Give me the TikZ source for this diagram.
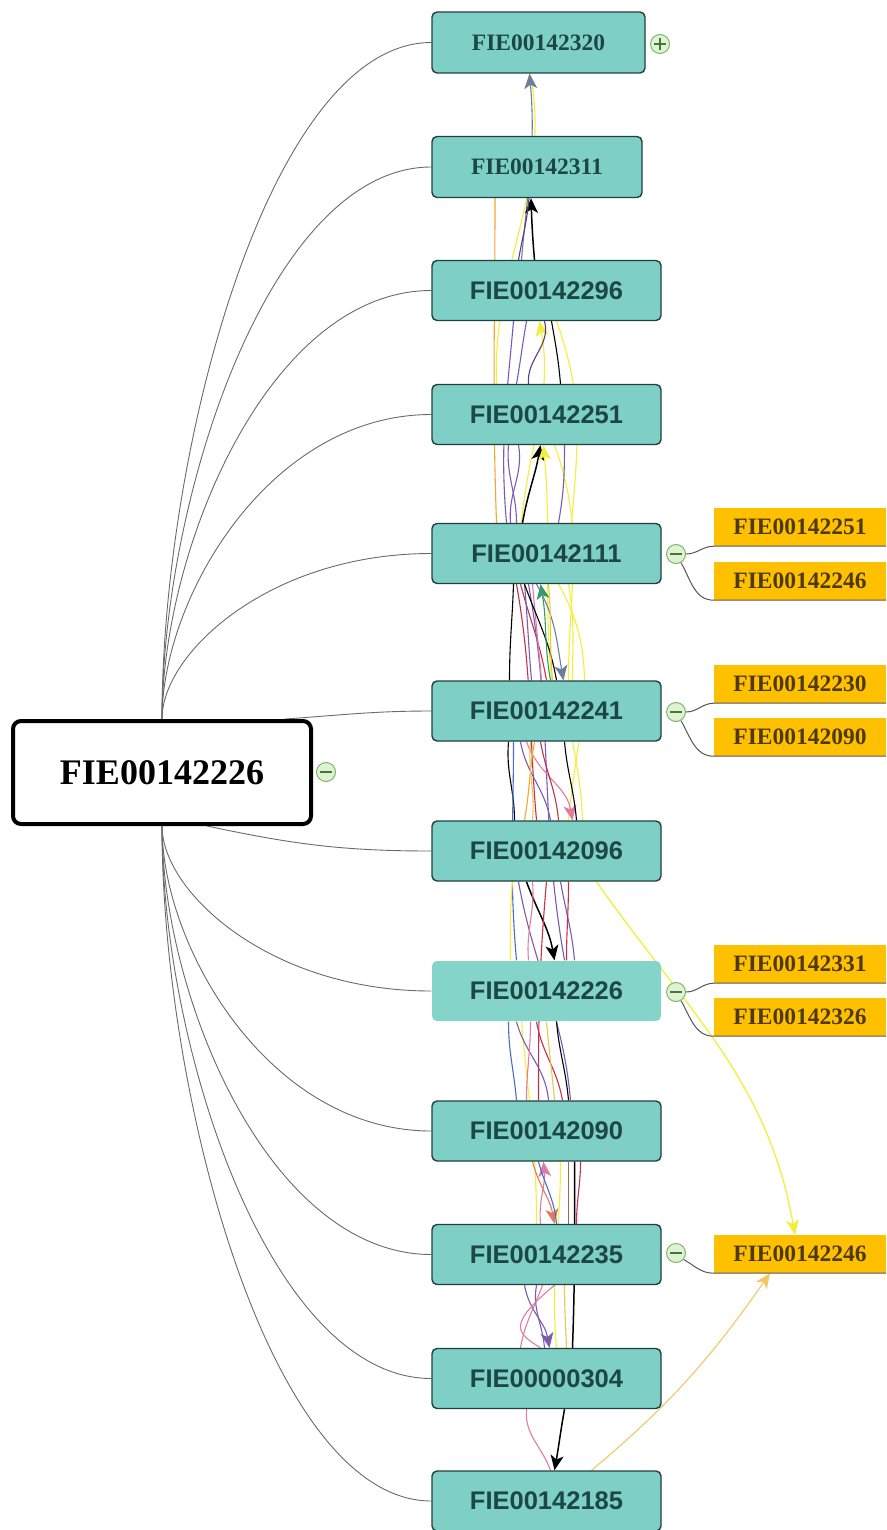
\documentclass[tikz,border=0pt]{standalone}
\usepackage{fontspec}
\setmainfont{Liberation Serif}
\newfontfamily\boxsans{Liberation Sans}
\usetikzlibrary{arrows.meta,calc}
\pgfdeclarelayer{bg}
\pgfsetlayers{bg,main}
\definecolor{tealfill}{HTML}{7ECFC5}
\definecolor{tealfillb}{HTML}{84D4CA}
\definecolor{tealborder}{HTML}{233F3D}
\definecolor{tealtext}{HTML}{1C4745}
\definecolor{ofill}{HTML}{FFC000}
\definecolor{otext}{HTML}{4E3A08}
\definecolor{pmgreen}{HTML}{7DB56A}
\definecolor{pmfill}{HTML}{DDF3D2}
\definecolor{pmdark}{HTML}{4E6E48}
\definecolor{rootline}{HTML}{6A6A6A}
\definecolor{cyel}{HTML}{F3EE3A}
\definecolor{cgold}{HTML}{E9C84A}
\definecolor{cpurp}{HTML}{7A5BB0}
\definecolor{cdpurp}{HTML}{5A3C78}
\definecolor{ccrim}{HTML}{C52E4E}
\definecolor{cpink}{HTML}{E07CA2}
\definecolor{csalm}{HTML}{E8785A}
\definecolor{cblue}{HTML}{4A6CC8}
\definecolor{cgreen}{HTML}{2E9E5E}
\definecolor{cgb}{HTML}{6C7E9E}
\definecolor{corange}{HTML}{F0A830}
\definecolor{clorange}{HTML}{F2C766}
\definecolor{cbrown}{HTML}{9A6A50}
\tikzset{
  tealA/.style={draw=tealborder,line width=1.4pt,fill=tealfill,rounded corners=5pt,
    minimum height=61pt,inner sep=0pt,text=tealtext,font=\bfseries\fontsize{23.5}{26}\selectfont},
  tealB/.style={draw=tealborder,line width=1.4pt,fill=tealfill,rounded corners=5pt,
    minimum width=229pt,minimum height=60pt,inner sep=0pt,text=tealtext,
    font=\boxsans\bfseries\fontsize{25.5}{28}\selectfont},
  tealsel/.style={tealB,draw=none,fill=tealfillb},
  rootbox/.style={draw=black,line width=4pt,fill=white,rounded corners=8pt,
    minimum width=298pt,minimum height=103pt,inner sep=0pt,
    font=\bfseries\fontsize{36}{40}\selectfont},
  obox/.style={fill=ofill,minimum width=172pt,minimum height=38pt,inner sep=0pt,
    text=otext,font=\bfseries\fontsize{23.5}{26}\selectfont},
  pmminus/.style={circle,draw=pmgreen,fill=pmfill,minimum size=19pt,inner sep=0pt,line width=1pt,
    path picture={\draw[pmdark,line width=1.1pt] ([xshift=-6pt]path picture bounding box.center) -- ([xshift=6pt]path picture bounding box.center);}},
  pmplus/.style={pmminus,
    path picture={\draw[pmdark,line width=1.1pt] ([xshift=-6pt]path picture bounding box.center) -- ([xshift=6pt]path picture bounding box.center)
      ([yshift=-6pt]path picture bounding box.center) -- ([yshift=6pt]path picture bounding box.center);}},
  rl/.style={rootline,line width=0.9pt},
  cl/.style={draw=rootline!80!black,line width=1pt},
  e/.style={line width=1.1pt},
  eb/.style={line width=1.5pt,black},
  tip/.style={-{Stealth[length=15pt,width=13pt,inset=4pt]}}
}
\begin{document}
\begin{tikzpicture}[x=1pt,y=1pt]
\useasboundingbox (0,0) rectangle (886,-1530);
\clip (0,0) rectangle (886,-1530);
% teal column
\node[tealA,minimum width=213pt] (n1) at (538.5,-42.5) {FIE00142320};
\node[tealA,minimum width=210pt] (n2) at (537,-167) {FIE00142311};
\node[tealB] (n3) at (546.5,-290.5) {FIE00142296};
\node[tealB] (n4) at (546.5,-414.5) {FIE00142251};
\node[tealB] (n5) at (546.5,-553.5) {FIE00142111};
\node[tealB] (n6) at (546.5,-711) {FIE00142241};
\node[tealB] (n7) at (546.5,-851) {FIE00142096};
\node[tealsel] (n8) at (546.5,-991) {FIE00142226};
\node[tealB] (n9) at (546.5,-1131) {FIE00142090};
\node[tealB] (n10) at (546.5,-1254.5) {FIE00142235};
\node[tealB] (n11) at (546.5,-1378.5) {FIE00000304};
\node[tealB] (n12) at (546.5,-1501) {FIE00142185};
% root
\node[rootbox] (root) at (162,-772.5) {FIE00142226};
\node[pmminus] (c0) at (326,-772) {};
% circles
\node[pmplus] (c1) at (660,-44) {};
\node[pmminus] (c5) at (676,-554) {};
\node[pmminus] (c6) at (676,-712) {};
\node[pmminus] (c8) at (676,-992) {};
\node[pmminus] (c10) at (676,-1253) {};
% orange children
\node[obox] (o1) at (800,-527) {FIE00142251};
\node[obox] (o2) at (800,-581) {FIE00142246};
\node[obox] (o3) at (800,-684) {FIE00142230};
\node[obox] (o4) at (800,-737) {FIE00142090};
\node[obox] (o5) at (800,-964) {FIE00142331};
\node[obox] (o6) at (800,-1017) {FIE00142326};
\node[obox] (o7) at (800,-1254) {FIE00142246};
% circle to children connectors
\draw[cl] (c5.east) to[out=0,in=180] (o1.south west) -- (o1.south east);
\draw[cl] (c5.-60) to[out=-60,in=180] (o2.south west) -- (o2.south east);
\draw[cl] (c6.east) to[out=0,in=180] (o3.south west) -- (o3.south east);
\draw[cl] (c6.-60) to[out=-60,in=180] (o4.south west) -- (o4.south east);
\draw[cl] (c8.east) to[out=0,in=180] (o5.south west) -- (o5.south east);
\draw[cl] (c8.-60) to[out=-60,in=180] (o6.south west) -- (o6.south east);
\draw[cl] (c10.-40) to[out=-30,in=180] (o7.south west) -- (o7.south east);

\begin{pgfonlayer}{bg}
\clip (0,0) rectangle (886,-1530);
% root connectors
\foreach \n in {n1,n2,n3,n4,n5}{
  \draw[rl] (root.north) .. controls ($(root.north)!0.4!(root.north|-\n.west)$) and ($(\n.west)!0.6!(\n.west-|root.north)$) .. (\n.west);
}
\draw[rl] ([xshift=-28pt]root.north east) to[out=4,in=180] (n6.west);
\draw[rl] ([xshift=45pt]root.south) to[out=-12,in=180] (n7.west);
\foreach \n in {n8,n9,n10,n11,n12}{
  \draw[rl] (root.south) .. controls ($(root.south)!0.4!(root.south|-\n.west)$) and ($(\n.west)!0.6!(\n.west-|root.south)$) .. (\n.west);
}
% ---- tangle: gaps 1-2, 2-3
\draw[e,cyel] ([xshift=-50pt]n4.north) to[out=92,in=-80] ([xshift=-8pt]n1.south);
\draw[e,cgb,tip] ([xshift=-25pt]n3.north) to[out=85,in=-85] ([xshift=-9pt]n1.south);
\draw[eb,tip] ([xshift=-12pt]n3.north) to[out=95,in=-88] ([xshift=-6pt]n2.south);
\draw[e,cdpurp] ([xshift=-28pt]n3.north) to[out=80,in=-95] ([xshift=-8pt]n2.south);
\draw[e,corange] ([xshift=-50pt]n5.north) to[out=92,in=-90] ([xshift=-42pt]n2.south);
% gap 3-4
\draw[e,cpurp] ([xshift=-40pt]n5.north) to[out=95,in=-95] ([xshift=-33pt]n3.south);
\draw[e,cpurp] ([xshift=-30pt]n4.north) to[out=80,in=-100] ([xshift=-20pt]n3.south);
\draw[e,cyel,tip] ([xshift=-25pt]n5.north) to[out=85,in=-80] ([xshift=-7pt]n3.south);
\draw[e,cdpurp] ([xshift=-18pt]n4.north) to[out=95,in=-75] ([xshift=-2pt]n3.south);
\draw[e,black] ([xshift=5pt]n3.south) to[out=-80,in=95] ([xshift=14pt]n4.north);
\draw[e,cyel] ([xshift=10pt]n3.south) to[out=-70,in=85] ([xshift=25pt]n5.north);
% gap 4-5
\draw[e,cpurp] ([xshift=-38pt]n4.south) to[out=-95,in=90] ([xshift=-30pt]n5.north);
\draw[e,cpurp] ([xshift=-28pt]n4.south) to[out=-80,in=95] ([xshift=-36pt]n5.north);
\draw[eb,tip] ([xshift=-24pt]n5.north) to[out=80,in=-100] ([xshift=-6pt]n4.south);
\draw[e,cyel,tip] ([xshift=5pt]n6.north) to[out=95,in=-85] ([xshift=-3pt]n4.south);
\draw[e,cyel] ([xshift=8pt]n4.south) to[out=-70,in=90] ([xshift=22pt]n6.north);
\draw[e,cpurp] ([xshift=18pt]n4.south) to[out=-90,in=80] ([xshift=12pt]n5.north);
% gap 5-6
\draw[e,black] ([xshift=-37pt]n6.north) to[out=90,in=-92] ([xshift=-33pt]n5.south);
\draw[e,ccrim] ([xshift=-30pt]n5.south) to[out=-80,in=95] ([xshift=-10pt]n7.north);
\draw[e,ccrim] ([xshift=-26pt]n5.south) to[out=-75,in=100] ([xshift=0pt]n6.north);
\draw[e,cpurp] ([xshift=-22pt]n5.south) to[out=-85,in=95] ([xshift=-15pt]n6.north);
\draw[e,cpurp] ([xshift=-18pt]n5.south) to[out=-80,in=100] ([xshift=18pt]n8.north);
\draw[e,cpink] ([xshift=-14pt]n5.south) to[out=-85,in=95] ([xshift=-5pt]n6.north);
\draw[e,black] ([xshift=-22pt]n5.south) to[out=-70,in=100] ([xshift=10pt]n6.north);
\draw[e,cgreen,tip] ([xshift=4pt]n6.north) to[out=100,in=-80] ([xshift=-6pt]n5.south);
\draw[e,cgb,tip] ([xshift=-10pt]n5.south) to[out=-60,in=100] ([xshift=17pt]n6.north);
\draw[e,cyel] ([xshift=12pt]n5.south) to[out=-60,in=85] ([xshift=22pt]n7.north);
\draw[e,cyel] ([xshift=22pt]n5.south) to[out=-80,in=90] ([xshift=26pt]n6.north);
\draw[e,cgold] ([xshift=2pt]n5.south) to[out=-85,in=95] ([xshift=6pt]n6.north);
% gap 6-7
\draw[e,black] ([xshift=-38pt]n6.south) to[out=-95,in=90] ([xshift=-32pt]n7.north);
\draw[e,cblue] ([xshift=-33pt]n6.south) to[out=-90,in=95] ([xshift=-30pt]n8.north);
\draw[e,cpink,tip] ([xshift=-20pt]n6.south) to[out=-70,in=100] ([xshift=26pt]n7.north);
\draw[e,corange] ([xshift=-12pt]n6.south) to[out=-100,in=80] ([xshift=-22pt]n7.north);
\draw[e,ccrim] ([xshift=-6pt]n6.south) to[out=-80,in=95] ([xshift=12pt]n7.north);
\draw[e,cpurp] ([xshift=-26pt]n6.south) to[out=-80,in=100] ([xshift=4pt]n7.north);
\draw[e,black] ([xshift=18pt]n6.south) to[out=-85,in=95] ([xshift=30pt]n7.north);
\draw[e,cyel] ([xshift=26pt]n6.south) to[out=-80,in=92] ([xshift=36pt]n7.north);
\draw[e,cgold] ([xshift=-16pt]n6.south) to[out=-95,in=85] ([xshift=-14pt]n7.north);
% gap 7-8
\draw[eb,tip] ([xshift=-20pt]n7.south) to[out=-70,in=100] ([xshift=8pt]n8.north);
\draw[e,ccrim] ([xshift=0pt]n7.south) to[out=-95,in=90] ([xshift=-8pt]n9.north);
\draw[e,cpurp] ([xshift=-28pt]n7.south) to[out=-80,in=95] ([xshift=24pt]n9.north);
\draw[e,cyel] ([xshift=-34pt]n7.south) to[out=-95,in=90] ([xshift=-36pt]n8.north);
\draw[e,cpink] ([xshift=-14pt]n7.south) to[out=-85,in=95] ([xshift=-18pt]n8.north);
\draw[e,cpurp] ([xshift=14pt]n7.south) to[out=-80,in=95] ([xshift=28pt]n8.north);
\draw[e,ccrim] ([xshift=22pt]n7.south) to[out=-90,in=90] ([xshift=20pt]n8.north);
% gap 8-9
\draw[e,cblue] ([xshift=-38pt]n8.south) to[out=-90,in=95] ([xshift=-30pt]n9.north);
\draw[e,cyel] ([xshift=-25pt]n8.south) to[out=-85,in=90] ([xshift=-10pt]n10.north);
\draw[e,ccrim] ([xshift=-10pt]n8.south) to[out=-80,in=100] ([xshift=16pt]n9.north);
\draw[e,black] ([xshift=10pt]n8.south) to[out=-85,in=95] ([xshift=22pt]n9.north);
\draw[e,cpurp] ([xshift=-30pt]n8.south) to[out=-75,in=95] ([xshift=2pt]n9.north);
\draw[e,cpink] ([xshift=-16pt]n8.south) to[out=-90,in=90] ([xshift=-20pt]n9.north);
\draw[e,cgold] ([xshift=0pt]n8.south) to[out=-85,in=95] ([xshift=8pt]n9.north);
% gap 9-10
\draw[e,cpink,tip] ([xshift=-6pt]n10.north) to[out=95,in=-85] ([xshift=-3pt]n9.south);
\draw[e,csalm,tip] ([xshift=-14pt]n9.south) to[out=-75,in=100] ([xshift=8pt]n10.north);
\draw[e,cblue] ([xshift=-8pt]n9.south) to[out=-75,in=95] ([xshift=10pt]n10.north);
\draw[e,cyel] ([xshift=14pt]n9.south) to[out=-90,in=95] ([xshift=10pt]n11.north);
\draw[e,cbrown] ([xshift=22pt]n9.south) to[out=-90,in=90] ([xshift=22pt]n10.north);
\draw[eb] ([xshift=28pt]n9.south) to[out=-90,in=88] ([xshift=26pt]n11.north);
\draw[e,ccrim] ([xshift=34pt]n9.south) to[out=-90,in=90] ([xshift=30pt]n10.north);
% gap 10-11
\draw[e,cpurp,tip] ([xshift=-22pt]n10.south) to[out=-80,in=100] ([xshift=3pt]n11.north);
\draw[e,cpink] ([xshift=-4pt]n10.south) to[out=-110,in=80] ([xshift=-26pt]n11.north);
\draw[e,cpurp] ([xshift=-10pt]n10.south) to[out=-100,in=95] ([xshift=-2pt]n11.north);
\draw[e,cpink] ([xshift=8pt]n10.south) .. controls ([xshift=-40pt,yshift=-40pt]n10.south) and ([xshift=-30pt,yshift=15pt]n11.north) .. ([xshift=-6pt]n11.north);
\draw[e,cgold] ([xshift=18pt]n10.south) to[out=-90,in=92] ([xshift=20pt]n11.north);
% gap 11-12
\draw[e,cpink] ([xshift=-20pt]n11.south) to[out=-95,in=110] ([xshift=4pt]n12.north);
\draw[eb,tip] ([xshift=18pt]n11.south) to[out=-100,in=80] ([xshift=8pt]n12.north);
% long connectors to the orange child
\draw[e,cyel,line width=1.3pt,tip] ([xshift=50pt]n7.south) to[out=-55,in=100] ([xshift=-5pt]o7.north);
\draw[e,clorange,tip] ([xshift=45pt]n12.north) to[out=40,in=-125] ([xshift=-30pt]o7.south);
\end{pgfonlayer}
\end{tikzpicture}
\end{document}
